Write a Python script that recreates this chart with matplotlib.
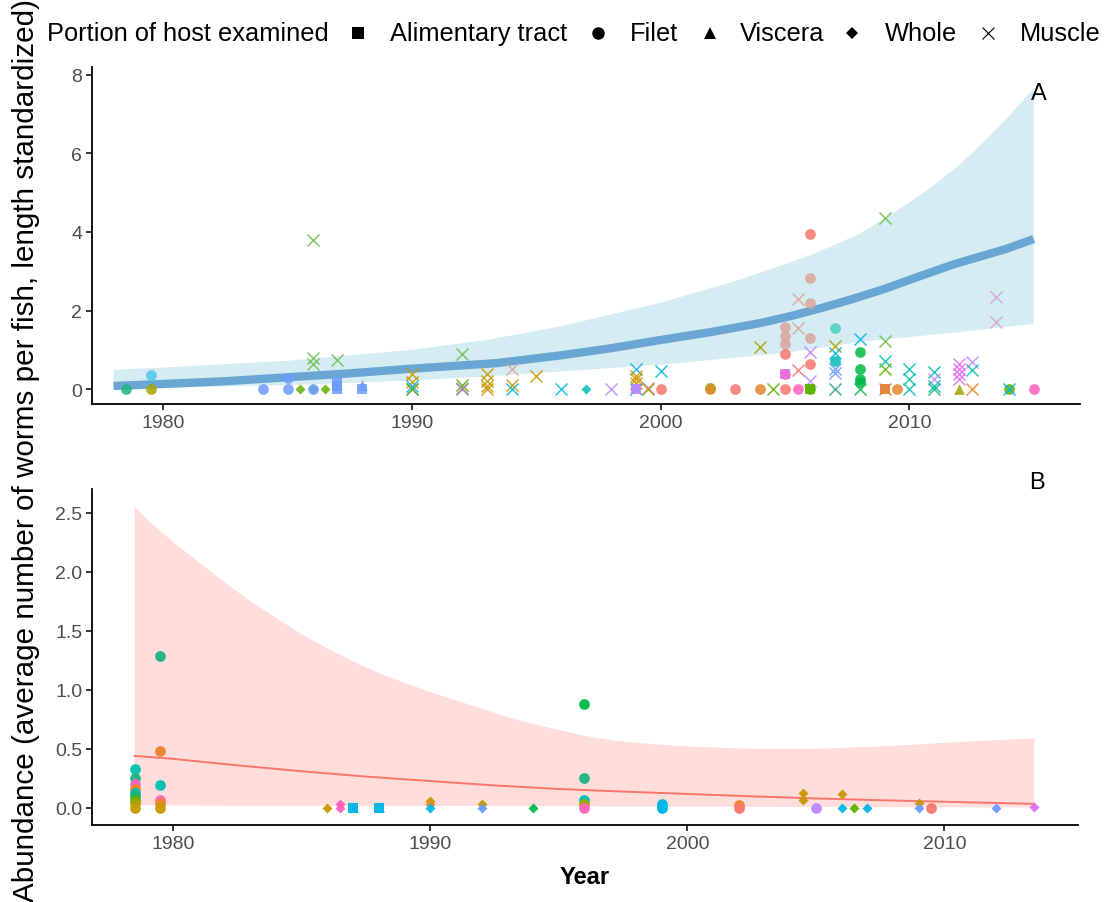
import numpy as np
import matplotlib
matplotlib.use("Agg")
import matplotlib.pyplot as plt
from matplotlib.lines import Line2D

plt.rcParams['font.family'] = ['Liberation Sans', 'DejaVu Sans']

# colour of each group (species)
pal = {
    'sal': '#F8766D', 'org': '#E8862A', 'gld': '#C99800', 'olv': '#A3A500',
    'lgr': '#5DB100', 'grn': '#00BA48', 'tgr': '#1DB383', 'tea': '#00BFB0',
    'cya': '#00B6E8', 'blu': '#6C9CFF', 'lav': '#BB88FF', 'mag': '#E56CF0',
    'pnk': '#FF62BC', 'ros': '#D9A59C', 'lgx': '#6CC04A', 'gry': '#A58CA0',
    'ltc': '#4CCFC0', 'lcy': '#4FC6EC', 'dtl': '#2E9E8C', 'plm': '#D8A0D8',
}

# ---- panel A: points (year, value, shape, group)
a_year = [1978.5, 1979.5, 1979.5, 1984, 1985, 1985, 1985.5,
          1986, 1986, 1986, 1986, 1986, 1986.5,
          1987, 1987, 1987, 1987, 1988, 1988,
          1990, 1990, 1990, 1990, 1990,
          1992, 1992, 1992, 1992,
          1993, 1993, 1993, 1993, 1994, 1994, 1994, 1995, 1996, 1997, 1998,
          1999, 1999, 1999, 1999, 1999, 1999, 1999, 1999.5, 1999.5,
          2000, 2000, 2002, 2002, 2003, 2004, 2004, 2004.5,
          2005, 2005, 2005, 2005, 2005, 2005, 2005,
          2005.5, 2005.5, 2005.5, 2005.5,
          2006, 2006, 2006, 2006, 2006, 2006, 2006, 2006, 2006,
          2007, 2007, 2007, 2007, 2007, 2007, 2007,
          2008, 2008, 2008, 2008, 2008, 2008,
          2009, 2009, 2009, 2009, 2009, 2009, 2009, 2009.5,
          2010, 2010, 2010, 2011, 2011, 2011, 2011,
          2012, 2012, 2012, 2012, 2012, 2012.5, 2012.5, 2012.5,
          2013.5, 2013.5, 2014, 2014, 2015]
a_val = [0, 0.37, 0, 0, 0.27, 0, 0,
         3.8, 0.78, 0.64, 0, 0, 0,
         0.74, 0.19, 0.09, 0, 0.1, 0,
         0.38, 0.17, 0.08, 0, 0,
         0.89, 0.1, 0.02, 0,
         0.38, 0.21, 0.08, 0, 0.51, 0.1, 0, 0.34, 0, 0, 0,
         0.51, 0.34, 0.25, 0.15, 0, 0, 0, 0.03, 0,
         0.47, 0, 0.02, 0, 0, 1.07, 0, 0,
         1.57, 1.36, 1.15, 0.89, 0.38, 0.38, 0,
         2.29, 1.55, 0.49, 0,
         3.95, 2.84, 2.2, 1.3, 0.64, 0.94, 0.2, 0, 0,
         1.55, 0.72, 1.09, 0.92, 0.5, 0.4, 0,
         1.27, 0.94, 0.51, 0.25, 0.18, 0,
         4.35, 1.23, 0.72, 0.51, 0, 0, 0, 0,
         0.51, 0.25, 0, 0.43, 0.25, 0.07, 0,
         0.64, 0.51, 0.38, 0.25, 0, 0.7, 0.49, 0,
         2.34, 1.72, 0, 0, 0]
a_shape = ['o', 'o', 'o', 'o', 'o', 'o', 'D',
           'x', 'x', 'x', 'D', 'o', 'D',
           'x', 's', 's', 's', '^', 's',
           'x', 'x', 'x', 'x', 'x',
           'x', 'x', 'x', 'x',
           'x', 'x', 'x', 'x', 'x', 'x', 'x', 'x', 'x', 'D', 'x',
           'x', 'x', 'x', 'x', 's', 'x', 's', 'x', 'x',
           'x', 'o', 'o', 'o', 'o', 'x', 'o', 'x',
           'o', 'o', 'o', 'o', 'o', 's', 'o',
           'x', 'x', 'x', 'o',
           'o', 'o', 'o', 'o', 'o', 'x', 'x', 'o', 's',
           'o', 'o', 'x', 'x', 'x', 'x', 'x',
           'x', 'o', 'o', 'o', 'o', 'x',
           'x', 'x', 'x', 'x', 's', 's', 'x', 'o',
           'x', 'x', 'x', 'x', 'x', 'x', 'x',
           'x', 'x', 'x', 'x', '^', 'x', 'x', 'x',
           'x', 'x', 'o', 'x', 'o']
a_grp = ['tgr', 'lcy', 'olv', 'blu', 'blu', 'blu', 'lgr',
         'lgx', 'lgx', 'lgx', 'lgr', 'blu', 'lgr',
         'lgx', 'blu', 'blu', 'blu', 'blu', 'blu',
         'gld', 'gld', 'cya', 'blu', 'lgr',
         'lgx', 'lgr', 'gry', 'gry',
         'gld', 'gld', 'gld', 'gld', 'ros', 'gld', 'cya', 'gld', 'cya', 'tea', 'lav',
         'cya', 'gld', 'gld', 'gld', 'mag', 'cya', 'lav', 'mag', 'olv',
         'cya', 'sal', 'lgr', 'org', 'sal', 'olv', 'org', 'lgr',
         'ros', 'ros', 'ros', 'sal', 'sal', 'mag', 'sal',
         'ros', 'ros', 'sal', 'pnk',
         'sal', 'ros', 'ros', 'ros', 'sal', 'lav', 'lav', 'lgr', 'lgr',
         'ltc', 'tea', 'olv', 'cya', 'blu', 'blu', 'dtl',
         'cya', 'grn', 'grn', 'grn', 'grn', 'grn',
         'lgx', 'lgx', 'tea', 'lgr', 'mag', 'org', 'org', 'org',
         'tea', 'tea', 'tea', 'tea', 'lav', 'tea', 'tgr',
         'mag', 'mag', 'mag', 'mag', 'olv', 'lav', 'tea', 'org',
         'plm', 'plm', 'lgr', 'cya', 'pnk']

# panel A fitted curve and confidence band
a_fit_year = [1978.0, 1980, 1982.5, 1985, 1987.5, 1990, 1993.4, 1996, 1998, 2000,
              2002, 2004, 2005.3, 2006.5, 2007.7, 2009, 2010, 2011.8, 2013.9, 2015]
a_fit = [0.08, 0.13, 0.2, 0.30, 0.4, 0.52, 0.66, 0.86, 1.04, 1.25,
         1.45, 1.68, 1.87, 2.07, 2.29, 2.55, 2.78, 3.18, 3.57, 3.82]
a_up_year = [1978.0, 1980, 1985, 1990, 1993, 1996, 2000, 2003, 2006, 2008,
             2009, 2010, 2011, 2012, 2013, 2014, 2015]
a_up = [0.49, 0.55, 0.72, 1.0, 1.25, 1.6, 2.2, 2.75, 3.4, 3.95,
        4.35, 4.75, 5.2, 5.7, 6.3, 6.95, 7.65]
a_lo_year = [1978.0, 1980, 1985, 1990, 1993, 1996, 2000, 2005, 2008, 2012, 2015]
a_lo = [0.0, 0.03, 0.1, 0.22, 0.32, 0.45, 0.62, 0.92, 1.2, 1.45, 1.66]

# ---- panel B: points
b_year = [1978.5, 1978.5, 1978.5, 1978.5, 1978.5, 1978.5, 1978.5, 1978.5, 1978.5,
          1979.5, 1979.5, 1979.5, 1979.5, 1979.5, 1979.5,
          1986, 1986.5, 1986.5, 1987, 1987, 1988, 1988,
          1990, 1990, 1990, 1992, 1992, 1994,
          1996, 1996, 1996, 1996, 1996,
          1999, 1999, 1999, 2002, 2002,
          2004.5, 2004.5, 2005, 2006, 2006, 2006.5, 2007,
          2009, 2009, 2009.5, 2012, 2013.5]
b_val = [0.33, 0.25, 0.2, 0.16, 0.13, 0.1, 0.07, 0.04, 0.0,
         1.29, 0.48, 0.195, 0.07, 0.04, 0.0,
         0.0, 0.03, 0.0, 0.01, 0.0, 0.01, 0.0,
         0.06, 0.03, 0.0, 0.035, 0.0, 0.0,
         0.88, 0.25, 0.07, 0.03, 0.0,
         0.035, 0.01, 0.0, 0.025, 0.0,
         0.125, 0.07, 0.0, 0.12, 0.0, 0.0, 0.0,
         0.04, 0.0, 0.0, 0.0, 0.01]
b_shape = ['o'] * 15 + ['D', 'D', 'D', '^', 's', '^', 's',
                        'D', 'D', 'D', 'D', 'D', 'D',
                        'o', 'o', 'o', 'o', 'o',
                        'o', 'o', 'o', 'o', 'o',
                        'D', 'D', 'o', 'D', 'D', 'D', 'D',
                        'D', 'D', 'o', 'D', 'D']
b_grp = ['tea', 'tgr', 'pnk', 'org', 'tea', 'tgr', 'lgr', 'olv', 'gld',
         'tgr', 'org', 'tea', 'pnk', 'org', 'gld',
         'gld', 'pnk', 'pnk', 'cya', 'cya', 'cya', 'cya',
         'gld', 'org', 'cya', 'gld', 'blu', 'grn',
         'grn', 'tgr', 'tea', 'olv', 'pnk',
         'cya', 'cya', 'cya', 'org', 'sal',
         'gld', 'gld', 'lav', 'gld', 'cya', 'lgr', 'cya',
         'gld', 'blu', 'sal', 'blu', 'mag']

b_fit_year = [1978.5, 1980, 1982.5, 1985, 1987.5, 1990, 1992.5, 1995, 1997.5,
              2000, 2002.5, 2005, 2007.5, 2010, 2013.5]
b_fit = [0.44, 0.415, 0.36, 0.31, 0.265, 0.227, 0.19, 0.16, 0.138,
         0.118, 0.098, 0.08, 0.065, 0.052, 0.034]
b_up_year = [1978.5, 1979, 1980, 1981, 1982, 1983, 1984, 1985, 1986, 1987,
             1988, 1989, 1990, 1991, 1992, 1993, 1994, 1995, 1996, 1997,
             1998, 2000, 2002.5, 2005, 2007.5, 2010, 2013.5]
b_up = [2.55, 2.44, 2.25, 2.08, 1.91, 1.75, 1.61, 1.47, 1.35, 1.24,
        1.14, 1.06, 0.98, 0.91, 0.84, 0.77, 0.71, 0.66, 0.61, 0.575,
        0.55, 0.52, 0.50, 0.50, 0.52, 0.55, 0.59]
b_lo_year = [1978.5, 1990, 2000, 2013.5]
b_lo = [0.02, 0.017, 0.01, 0.003]

W, H = 1106, 903
fig = plt.figure(figsize=(W / 100, H / 100), dpi=100)


def px_axes(l, t, r, b):
    return fig.add_axes([l / W, 1 - b / H, (r - l) / W, (b - t) / H])


def style(ax):
    for s in ['top', 'right']:
        ax.spines[s].set_visible(False)
    for s in ['left', 'bottom']:
        ax.spines[s].set_linewidth(1.3)
    ax.tick_params(labelsize=14, labelcolor='#4D4D4D', length=4, width=1.1, pad=3)


def draw_points(ax, xs, ys, shapes, grps, alpha):
    size = {'o': 60, 's': 50, '^': 60, 'D': 26, 'x': 75}
    for x, y, m, g in zip(xs, ys, shapes, grps):
        c = pal[g]
        if m == 'x':
            ax.scatter(x, y, marker='x', s=size[m], c=c, linewidths=1.1,
                       alpha=alpha, zorder=3)
        else:
            ax.scatter(x, y, marker=m, s=size[m], c=c, linewidths=0,
                       alpha=alpha, zorder=3)


# panel A
axA = px_axes(92, 68, 1080, 405)
axA.fill(np.r_[a_up_year, a_lo_year[::-1]], np.r_[a_up, a_lo[::-1]],
         color='#D6ECF3', lw=0, zorder=1)
axA.plot(a_fit_year, a_fit, color='#6AA6D3', lw=6, solid_capstyle='butt',
         solid_joinstyle='round', zorder=2)
draw_points(axA, a_year, a_val, a_shape, a_grp, 0.85)
axA.set_xlim(1977.13, 2016.86)
axA.set_ylim(-0.38, 8.2)
axA.set_xticks([1980, 1990, 2000, 2010])
axA.set_yticks([0, 2, 4, 6, 8])
style(axA)
axA.text(2015.2, 7.55, 'A', fontsize=17, ha='center', va='center')

# panel B
axB = px_axes(92, 490, 1078, 826)
axB.fill(np.r_[b_up_year, b_lo_year[::-1]], np.r_[b_up, b_lo[::-1]],
         color='#FFDDDB', lw=0, zorder=1)
axB.plot(b_fit_year, b_fit, color='#F8766D', lw=1.4, zorder=2)
draw_points(axB, b_year, b_val, b_shape, b_grp, 0.95)
axB.set_xlim(1976.84, 2015.2)
axB.set_ylim(-0.145, 2.70)
axB.set_xticks([1980, 1990, 2000, 2010])
axB.set_yticks([0, 0.5, 1.0, 1.5, 2.0, 2.5])
axB.set_yticklabels(['0.0', '0.5', '1.0', '1.5', '2.0', '2.5'])
style(axB)
fig.text(1037 / W, 1 - 483 / H, 'B', fontsize=17, ha='center', va='center')

fig.text(585 / W, 1 - 878 / H, 'Year', fontsize=17, fontweight='bold',
         ha='center', va='center')
fig.text(26 / W, 1 - 451 / H,
         'Abundance (average number of worms per fish, length standardized)',
         fontsize=21.3, rotation=90, ha='center', va='center')

# legend row at the top
ly = 1 - 34 / H
fig.text(47 / W, ly, 'Portion of host examined', fontsize=18.3, va='center')
items = [(358, 's', 'Alimentary tract', 390), (598, 'o', 'Filet', 630),
         (710, '^', 'Viscera', 740), (852, 'D', 'Whole', 885),
         (988, 'x', 'Muscle', 1020)]
for mx, m, lab, tx in items:
    ms = {'s': 8, 'o': 9, '^': 9, 'D': 6, 'x': 9}[m]
    fig.add_artist(Line2D([mx / W], [ly], marker=m, markersize=ms, color='black',
                          markeredgewidth=0.8 if m == 'x' else 0,
                          linestyle='none', transform=fig.transFigure))
    fig.text(tx / W, ly, lab, fontsize=18.3, va='center')

fig.savefig('out.png', dpi=100)
